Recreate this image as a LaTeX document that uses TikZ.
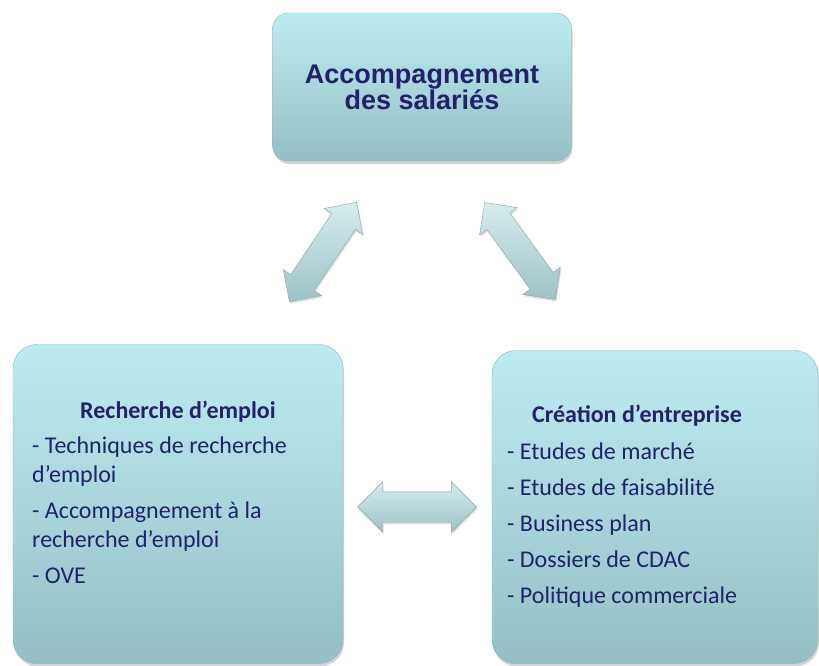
\documentclass[tikz,border=0pt]{standalone}
\usepackage{fontspec}
\setmainfont{Carlito}
\newfontfamily\arialfont{Liberation Sans}
\usetikzlibrary{shapes, shapes.arrows, positioning, shadows}

\definecolor{boxtop}{RGB}{188,236,242}
\definecolor{boxbottom}{RGB}{148,192,197}
\definecolor{boxedge}{RGB}{138,178,184}
\definecolor{arrowtop}{RGB}{214,236,238}
\definecolor{arrowbottom}{RGB}{158,194,198}
\definecolor{navy}{RGB}{35,33,105}

\tikzset{
	panel/.style={draw=boxedge, thin, rounded corners=24pt, top color=boxtop,
		bottom color=boxbottom,
		drop shadow={opacity=0.35, shadow xshift=1pt, shadow yshift=-3pt}},
	link/.style={double arrow, draw=arrowbottom!85!black, thin, inner xsep=0pt,
		inner ysep=14pt, top color=arrowtop, bottom color=arrowbottom,
		double arrow tip angle=90, double arrow head extend=9pt,
		drop shadow={opacity=0.25, shadow xshift=1pt, shadow yshift=-2pt}},
	itemtext/.style={text=navy, align=left, inner sep=0pt,
		font=\fontsize{24}{29}\selectfont}
}

\begin{document}
\begin{tikzpicture}[x=1pt, y=-1pt]
	\useasboundingbox (0,0) rectangle (819,666);

	\node [panel, rounded corners=16pt, minimum width=299pt,
	minimum height=148pt, text=navy, align=center,
	font=\arialfont\bfseries\fontsize{27}{26}\selectfont]
	(salaries) at (422,87) {Accompagnement\\des salariés};

	\node [panel, minimum width=330pt, minimum height=319pt]
	(emploi) at (178,504) {};
	\node [itemtext, anchor=base, font=\bfseries\fontsize{24}{29}\selectfont]
	(emploititle) at (178,418) {Recherche d'emploi};
	\node [itemtext, anchor=north west] (emploilist) at (32,437)
	{- Techniques de recherche\\d'emploi\\[7pt]
		- Accompagnement à la\\recherche d'emploi\\[7pt]
		- OVE};

	\node [panel, minimum width=326pt, minimum height=313pt]
	(entreprise) at (655,507) {};
	\node [itemtext, anchor=base, font=\bfseries\fontsize{24}{29}\selectfont]
	(entreprisetitle) at (637,422) {Création d'entreprise};
	\node [itemtext, anchor=north west] (entrepriselist) at (507,443)
	{- Etudes de marché\\[7pt]
		- Etudes de faisabilité\\[7pt]
		- Business plan\\[7pt]
		- Dossiers de CDAC\\[7pt]
		- Politique commerciale};

	\node [link, rotate=56, minimum height=120pt] (linkleft) at (323,252) {};
	\node [link, rotate=-54, minimum height=120pt] (linkright) at (520,251) {};
	\node [link, minimum height=119pt, inner ysep=15pt,
	double arrow head extend=10pt] (linkbottom) at (417,507) {};
\end{tikzpicture}
\end{document}
